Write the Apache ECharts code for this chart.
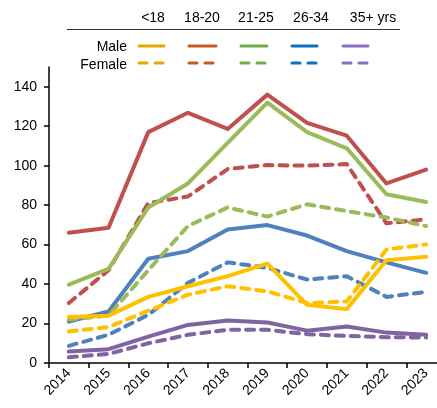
<!DOCTYPE html>
<html>
<head>
<meta charset="utf-8">
<style>html,body{margin:0;padding:0;background:#fff}#c{width:437px;height:408px}</style>
<script src="https://cdn.jsdelivr.net/npm/echarts@6/dist/echarts.min.js"></script>
</head>
<body>
<div id="c"></div>
<script>
const years = ['2014','2015','2016','2017','2018','2019','2020','2021','2022','2023'];
const groups = ['<18','18-20','21-25','26-34','35+ yrs'];
const yTicks = [0,20,40,60,80,100,120,140];

const maleLt18   = [23.3, 24.0, 33.5, 38.9, 44.0, 50.4, 29.5, 27.3, 52.1, 53.8];
const male1820   = [66.0, 68.5, 117.0, 126.8, 118.6, 136.0, 121.7, 115.2, 91.0, 98.0];
const male2125   = [39.7, 47.7, 78.8, 91.0, 111.5, 131.9, 117.0, 108.8, 85.5, 81.6];
const male2634   = [21.0, 26.1, 52.8, 56.7, 67.7, 69.9, 64.6, 56.7, 51.0, 45.7];
const male35     = [5.8, 7.0, 13.4, 19.3, 21.5, 20.5, 16.4, 18.5, 15.4, 14.3];

const femaleLt18 = [16.0, 18.2, 26.5, 34.6, 38.9, 36.3, 30.4, 31.2, 57.5, 60.1];
const female1820 = [30.4, 47.0, 81.0, 84.4, 98.3, 100.3, 100.0, 100.8, 70.8, 72.8];
const female2125 = [22.0, 24.0, 47.0, 69.4, 78.8, 74.2, 80.4, 77.0, 73.7, 69.4];
const female2634 = [8.7, 14.3, 24.4, 40.6, 51.0, 48.2, 42.3, 44.0, 33.5, 36.0];
const female35   = [2.9, 4.6, 10.0, 14.3, 16.8, 16.8, 14.6, 13.7, 13.1, 12.9];

const lineColors = ['#FFC000','#C0504D','#9BBB59','#4F81BD','#8064A2'];
const legendColors = ['#E6A800','#C9591F','#72AE48','#0A70C0','#8C6CC6'];

const maleData = [maleLt18, male1820, male2125, male2634, male35];
const femaleData = [femaleLt18, female1820, female2125, female2634, female35];

const FONT = '"Liberation Sans", Arial, sans-serif';

function mk(name, data, color, dashed, z) {
  return {
    name: name, type: 'line', data: data, symbol: 'none', z: z,
    lineStyle: { color: color, width: 4, type: dashed ? [8, 7] : 'solid', cap: 'round', join: 'round' },
    emphasis: { disabled: true }
  };
}
const order = [3, 4, 1, 2, 0];
const series = [];
order.forEach(function (i, k) {
  series.push(mk('Female ' + groups[i], femaleData[i], lineColors[i], true, 2 + k));
});
order.forEach(function (i, k) {
  series.push(mk('Male ' + groups[i], maleData[i], lineColors[i], false, 2 + k));
});

// legend drawn as graphic (layout only)
const headerX = [153, 202, 256, 311, 373];
const keyX = [[139, 164], [189, 216], [241, 267], [292, 317], [343, 368]];
const graphic = [];
groups.forEach(function (g, i) {
  graphic.push({ type: 'text', x: headerX[i], y: 18, style: { text: g, font: '14px ' + FONT, fill: '#000', align: 'center', verticalAlign: 'middle' } });
  graphic.push({ type: 'line', shape: { x1: keyX[i][0], y1: 46, x2: keyX[i][1], y2: 46 }, style: { stroke: legendColors[i], lineWidth: 3, lineCap: 'round' } });
  graphic.push({ type: 'line', shape: { x1: keyX[i][0], y1: 63, x2: keyX[i][1], y2: 63 }, style: { stroke: legendColors[i], lineWidth: 3, lineCap: 'round', lineDash: [8, 8] } });
});
graphic.push({ type: 'line', shape: { x1: 67, y1: 29.5, x2: 400, y2: 29.5 }, style: { stroke: '#333', lineWidth: 1 } });
graphic.push({ type: 'text', x: 127, y: 47, style: { text: 'Male', font: '14px ' + FONT, fill: '#000', align: 'right', verticalAlign: 'middle' } });
graphic.push({ type: 'text', x: 127, y: 65, style: { text: 'Female', font: '14px ' + FONT, fill: '#000', align: 'right', verticalAlign: 'middle' } });

const chart = echarts.init(document.getElementById('c'), null, { renderer: 'canvas' });
chart.setOption({
  animation: false,
  backgroundColor: '#fff',
  textStyle: { fontFamily: FONT },
  grid: { left: 49, right: -9, top: 67, bottom: 45, containLabel: false, outerBoundsMode: 'none' },
  xAxis: {
    type: 'category', data: years, boundaryGap: true,
    axisLine: { lineStyle: { color: '#000', width: 1.5 } },
    axisTick: { show: true, length: 5, inside: false, lineStyle: { color: '#000', width: 1.5 } },
    axisLabel: { rotate: 45, fontSize: 14, color: '#000', margin: 8, fontFamily: FONT }
  },
  yAxis: {
    type: 'value', min: 0, max: 150, interval: 20,
    splitLine: { show: false },
    axisLine: { show: true, lineStyle: { color: '#000', width: 1.5 } },
    axisTick: { show: true, length: 5, lineStyle: { color: '#000', width: 1.5 }, customValues: yTicks },
    axisLabel: { fontSize: 14, color: '#000', margin: 12, fontFamily: FONT, customValues: yTicks }
  },
  series: series,
  graphic: graphic
});
</script>
</body>
</html>
